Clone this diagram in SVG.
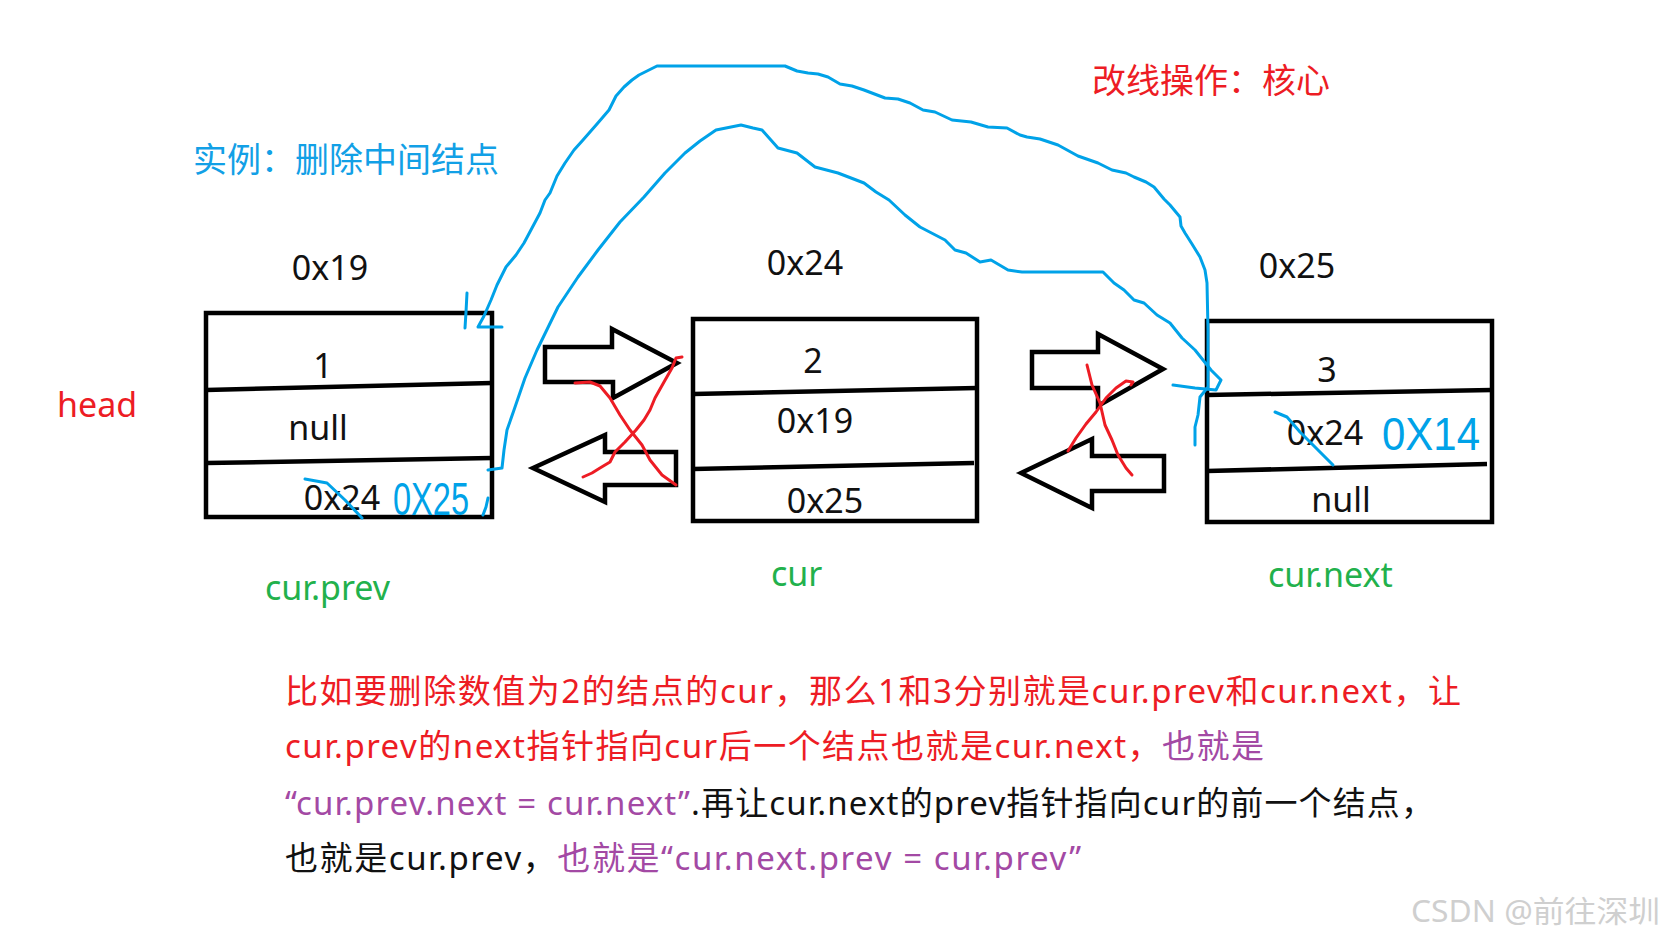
<svg xmlns="http://www.w3.org/2000/svg" width="1666" height="943" viewBox="0 0 1666 943">
<style>
text{font-family:"Noto Sans","Noto Sans CJK SC",sans-serif;}
.t{font-size:34px;fill:#111;text-anchor:middle;}
.box{fill:none;stroke:#000;stroke-width:4.5;}
.div{stroke:#000;stroke-width:4.5;}
.arrow{fill:#fff;stroke:#000;stroke-width:4.5;stroke-linejoin:miter;}
.blue{fill:none;stroke:#00A2E8;stroke-width:3;stroke-linejoin:round;stroke-linecap:round;}
.redx{fill:none;stroke:#ED1C24;stroke-width:3;stroke-linejoin:round;stroke-linecap:round;}
.lbl{font-size:34px;}
.desc{font-size:33px;}
.red{fill:#ED1C24;}
.grn{fill:#22B14C;}
.pur{fill:#A349A4;}
.blk{fill:#111;}
.hand{font-size:46px;fill:#00A2E8;font-family:"Liberation Sans",sans-serif;}
</style>

<text class="lbl" x="193" y="172" style="fill:#12A0E6">实例：删除中间结点</text>
<text class="lbl red" x="1092" y="93">改线操作：核心</text>
<text class="lbl red" x="57" y="417">head</text>

<g id="node1">
  <rect class="box" x="206" y="313" width="286" height="204"/>
  <line class="div" x1="206" y1="390" x2="492" y2="383"/>
  <line class="div" x1="206" y1="463" x2="492" y2="458"/>
  <text class="t" x="330" y="280">0x19</text>
  <text class="t" x="323" y="378">1</text>
  <text class="t" x="318" y="440">null</text>
  <text class="t" x="342" y="510">0x24</text>
  <text class="lbl grn" x="265" y="600">cur.prev</text>
</g>

<g id="node2">
  <rect class="box" x="693" y="319" width="284" height="202"/>
  <line class="div" x1="693" y1="394" x2="977" y2="388"/>
  <line class="div" x1="693" y1="469" x2="974" y2="463"/>
  <text class="t" x="805" y="275">0x24</text>
  <text class="t" x="813" y="373">2</text>
  <text class="t" x="815" y="433">0x19</text>
  <text class="t" x="825" y="513">0x25</text>
  <text class="lbl grn" x="771" y="586">cur</text>
</g>

<g id="node3">
  <rect class="box" x="1207" y="321" width="285" height="201"/>
  <line class="div" x1="1207" y1="395" x2="1492" y2="390"/>
  <line class="div" x1="1207" y1="471" x2="1487" y2="464"/>
  <text class="t" x="1297" y="278">0x25</text>
  <text class="t" x="1327" y="382">3</text>
  <text class="t" x="1325" y="445">0x24</text>
  <text class="t" x="1341" y="512">null</text>
  <text class="lbl grn" x="1268" y="587">cur.next</text>
</g>

<g id="connectors">
  <polygon class="arrow" points="545,347 612,347 612,329 677,363 613,398 613,382 545,382"/>
  <polygon class="arrow" points="533,468 605,435 605,452 676,452 676,485 605,485 605,502"/>
  <polygon class="arrow" points="1032,352 1098,352 1098,334 1163,369 1098,406 1098,388 1032,388"/>
  <polygon class="arrow" points="1021,473 1092,439 1092,456 1164,456 1164,491 1092,491 1092,508"/>

  <path class="redx" d="M575 383 L590 382 L600 386 L610 398 L620 415 L630 430 L642 445 L650 460 L662 475 L676 485"/>
  <path class="redx" d="M682 357 L676 358 L672 368 L664 382 L655 398 L650 410 L644 420 L636 430 L625 442 L615 452 L610 462 L600 468 L592 473 L583 477"/>
  <path class="redx" d="M1087 365 L1092 385 L1100 403 L1105 425 L1112 440 L1118 455 L1126 468 L1132 475"/>
  <path class="redx" d="M1068 451 L1076 438 L1086 424 L1096 412 L1106 398 L1116 388 L1126 381 L1133 382 L1131 385"/>

  <path class="blue" d="M502 327 L478 327 L484 316 L491 300 L497 285 L506 267 L516 255 L524 243 L532 228 L540 213 L545 200 L550 193 L557 176 L565 163 L574 150 L583 140 L597 124 L609 110 L616 96 L624 87 L632 80 L639 75 L647 71 L657 66 L785 66 L797 71 L808 73 L818 74 L828 77 L840 84 L852 86 L864 90 L885 98 L898 99 L910 103 L923 110 L935 112 L952 120 L971 122 L988 127 L1007 128 L1020 135 L1027 137 L1040 139 L1058 145 L1078 156 L1098 163 L1112 170 L1126 173 L1134 177 L1146 182 L1154 187 L1164 199 L1170 205 L1180 217 L1181 226 L1185 233 L1192 244 L1200 257 L1205 270 L1207 283 L1208 330 L1208 387 L1200 397 L1198 415 L1195 427 L1195 445"/>
  <path class="blue" d="M467 293 L466 312 L465 328"/>
  <path class="blue" d="M488 470 L502 468 L504 450 L507 430 L514 410 L525 378 L537 350 L558 307 L578 277 L598 250 L620 222 L644 197 L665 173 L685 153 L700 141 L716 130 L741 125 L753 128 L762 130 L778 148 L797 153 L815 167 L838 173 L864 183 L876 192 L889 200 L905 215 L920 227 L945 240 L955 250 L966 253 L980 262 L991 260 L1008 270 L1022 272 L1103 272 L1114 283 L1124 290 L1134 300 L1144 303 L1157 315 L1170 323 L1182 338 L1195 350 L1211 370 L1221 380 L1216 390 L1195 388 L1173 385"/>
  <path class="blue" d="M305 479 L327 483 L345 500 L362 518"/>
  <path class="blue" d="M488 498 L486 507 L483 515"/>
  <path class="blue" d="M1275 412 L1287 417 L1300 432 L1318 450 L1333 465"/>
</g>

<text class="hand" x="393" y="515" textLength="76" lengthAdjust="spacingAndGlyphs">0X25</text>
<text class="hand" x="1382" y="450" textLength="98" lengthAdjust="spacingAndGlyphs">0X14</text>

<g id="description" class="desc">
  <text x="285" y="703" textLength="1176" lengthAdjust="spacing" class="red">比如要删除数值为2的结点的cur，那么1和3分别就是cur.prev和cur.next，让</text>
  <text x="285" y="758" textLength="979" lengthAdjust="spacing"><tspan class="red">cur.prev的next指针指向cur后一个结点也就是cur.next，</tspan><tspan class="pur">也就是</tspan></text>
  <text x="285" y="815" textLength="1149" lengthAdjust="spacing"><tspan class="pur">“cur.prev.next = cur.next”</tspan><tspan class="blk">.再让cur.next的prev指针指向cur的前一个结点，</tspan></text>
  <text x="285" y="870" textLength="796" lengthAdjust="spacing"><tspan class="blk">也就是cur.prev，</tspan><tspan class="pur">也就是“cur.next.prev = cur.prev”</tspan></text>
</g>

<text x="1411" y="922" style="font-size:30px;fill:#cfcfcf" textLength="249" lengthAdjust="spacingAndGlyphs">CSDN @前往深圳</text>
</svg>
